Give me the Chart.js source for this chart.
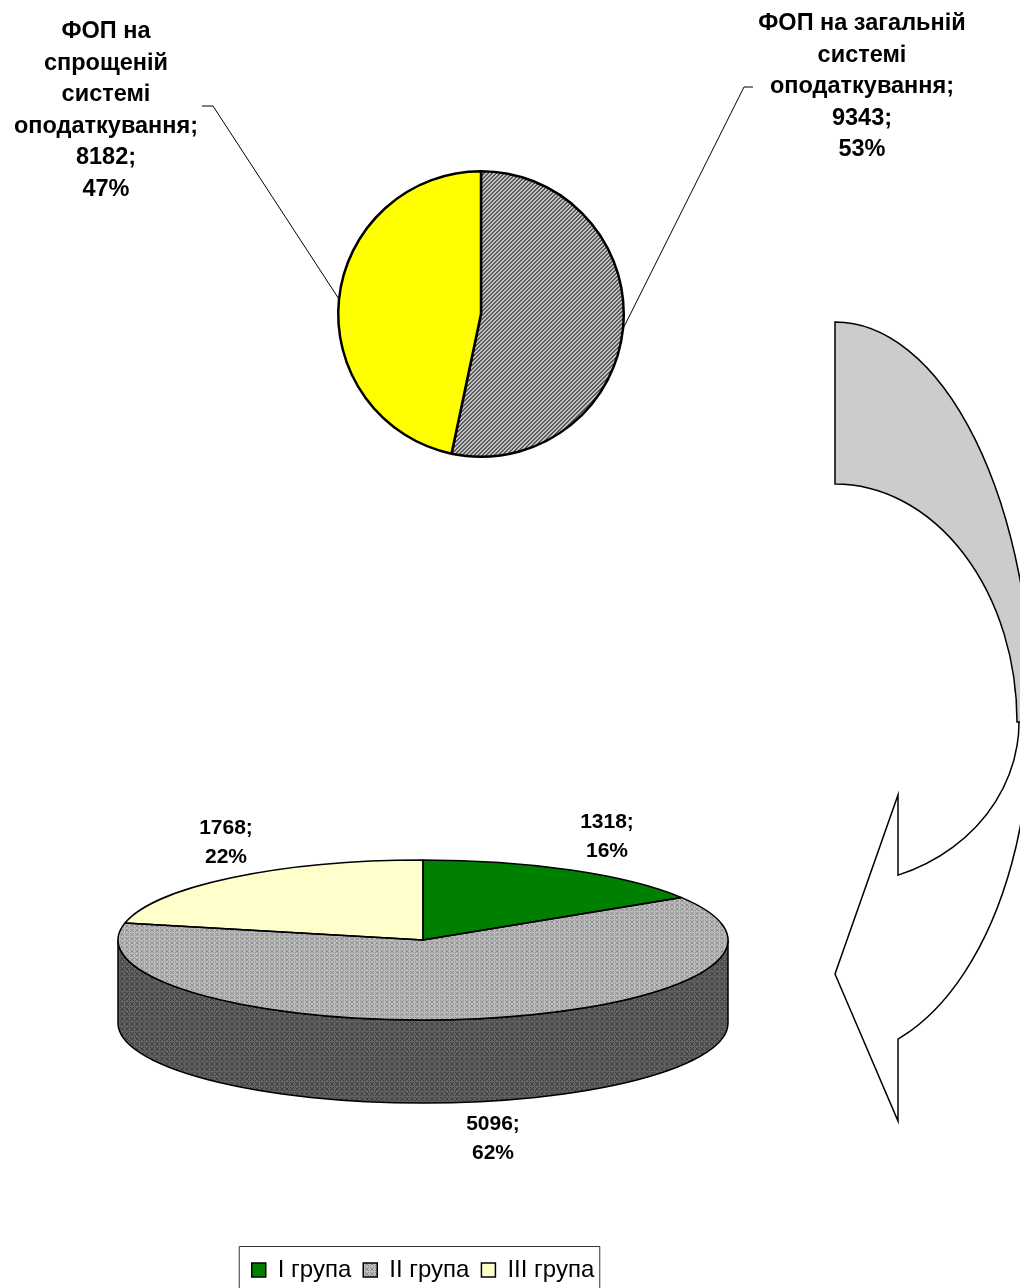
<!DOCTYPE html>
<html>
<head>
<meta charset="utf-8">
<script src="https://cdn.jsdelivr.net/npm/chart.js@4.4.1/dist/chart.umd.min.js"></script>
<style>
  html, body { margin: 0; padding: 0; background: #fff; }
  #wrap { position: relative; width: 1020px; height: 1288px; overflow: hidden; }
  #wrap canvas { position: absolute; left: 0; top: 0; }
</style>
</head>
<body>
<div id="wrap">
  <canvas id="topPie" width="1020" height="1288"></canvas>
  <canvas id="groupPie" width="1020" height="1288"></canvas>
</div>
<script>
// DATA
const systemCategories = [
	["ФОП на загальній", "системі", "оподаткування"],
	["ФОП на", "спрощеній", "системі", "оподаткування"],
];
const systemValues = [9343, 8182];

const groupCategories = ["I група", "II група", "III група"];
const groupValues = [1318, 5096, 1768];

const FONT = "'Liberation Sans', Arial, sans-serif";

// fill patterns
const makePattern = (size, pick) => {
	const c = document.createElement("canvas");
	c.width = c.height = size;
	const g = c.getContext("2d");
	for (let y = 0; y < size; y++) {
		for (let x = 0; x < size; x++) {
			g.fillStyle = pick(x, y);
			g.fillRect(x, y, 1, 1);
		}
	}
	return g.createPattern(c, "repeat");
};
const speck = (x, y) => (x * 7 + y * 13 + x * y * 3) % 5 < 2;
const ctxA = document.getElementById("topPie").getContext("2d");
const hatch = makePattern(4, (x, y) => ((x + y) % 4 < 2 ? "#5a5a5a" : "#c4c4c4"));
const stippleLight = makePattern(10, (x, y) => (speck(x, y) ? "#8c8c8c" : "#bdbdbd"));
const stippleDark = makePattern(10, (x, y) => (speck(x, y) ? "#404040" : "#626262"));

// labels "category; value; percent" drawn next to each slice
const sliceLabels = {
	id: "sliceLabels",
	afterDatasetsDraw(chart, args, o) {
		const ctx = chart.ctx;
		const ds = chart.data.datasets[0];
		const total = ds.data.reduce((a, b) => a + b, 0);
		ctx.save();
		ctx.font = `bold ${o.size}px ${FONT}`;
		ctx.fillStyle = "#000";
		ctx.textAlign = "center";
		ctx.textBaseline = "middle";
		chart.getDatasetMeta(0).data.forEach((arc, i) => {
			const lines = o.withCategory ? [...chart.data.labels[i]] : [];
			if (lines.length) lines[lines.length - 1] += ";";
			lines.push(ds.data[i] + ";", Math.round((ds.data[i] / total) * 100) + "%");
			const a = o.anchors[i];
			lines.forEach((t, j) => ctx.fillText(t, a.x, a.y + j * o.lineHeight));
			if (a.elbow) {
				const m = (arc.startAngle + arc.endAngle) / 2;
				ctx.beginPath();
				ctx.moveTo(arc.x + arc.outerRadius * Math.cos(m), arc.y + arc.outerRadius * Math.sin(m));
				ctx.lineTo(a.elbow[0], a.elbow[1]);
				ctx.lineTo(a.elbow[2], a.elbow[1]);
				ctx.lineWidth = 1;
				ctx.strokeStyle = "#000";
				ctx.stroke();
			}
		});
		ctx.restore();
	},
};

// squash the pie into an ellipse and give it a side wall
const tilt = {
	id: "tilt",
	beforeDatasetsDraw(chart, args, o) {
		const ctx = chart.ctx;
		const arcs = chart.getDatasetMeta(0).data;
		const ds = chart.data.datasets[0];
		const { x: cx, y: cy, outerRadius: r } = arcs[0];
		const ry = r * o.ratio;
		ctx.save();
		arcs.forEach((arc, i) => {
			[[0, Math.PI], [2 * Math.PI, 3 * Math.PI]].forEach(([lo, hi]) => {
				const a = Math.max(arc.startAngle, lo);
				const b = Math.min(arc.endAngle, hi);
				if (b <= a) return;
				ctx.beginPath();
				ctx.ellipse(cx, cy, r, ry, 0, a, b);
				ctx.lineTo(cx + r * Math.cos(b), cy + ry * Math.sin(b) + o.depth);
				ctx.ellipse(cx, cy + o.depth, r, ry, 0, b, a, true);
				ctx.closePath();
				ctx.fillStyle = ds.sideColor[i];
				ctx.fill();
				ctx.lineWidth = 1.5;
				ctx.strokeStyle = "#000";
				ctx.stroke();
			});
		});
		ctx.restore();
		ctx.save();
		ctx.translate(cx, cy);
		ctx.scale(1, o.ratio);
		ctx.translate(-cx, -cy);
	},
	afterDatasetsDraw(chart, args, o) {
		const ctx = chart.ctx;
		ctx.restore();
		chart.getDatasetMeta(0).data.forEach((arc) => {
			ctx.save();
			ctx.translate(arc.x, arc.y);
			ctx.scale(1, o.ratio);
			ctx.translate(-arc.x, -arc.y);
			ctx.beginPath();
			ctx.moveTo(arc.x, arc.y);
			ctx.arc(arc.x, arc.y, arc.outerRadius, arc.startAngle, arc.endAngle);
			ctx.closePath();
			ctx.restore();
			ctx.lineWidth = 1.5;
			ctx.lineJoin = "round";
			ctx.strokeStyle = "#000";
			ctx.stroke();
		});
	},
};

// frame round the legend
const legendFrame = {
	id: "legendFrame",
	afterDraw(chart) {
		const lg = chart.legend;
		const hb = lg.legendHitBoxes;
		const last = hb[hb.length - 1];
		const ctx = chart.ctx;
		ctx.save();
		ctx.strokeStyle = "#333";
		ctx.lineWidth = 1;
		ctx.strokeRect(hb[0].left - 12.5, 1246.5, last.left + last.width - hb[0].left + 18, 100);
		ctx.restore();
	},
};

// curved arrow from the upper pie down to the lower one
const curvedArrow = {
	id: "curvedArrow",
	beforeDraw(chart, args, o) {
		const ctx = chart.ctx;
		const { cx, cy } = o;
		ctx.save();
		ctx.lineWidth = 1.5;
		ctx.strokeStyle = "#000";
		ctx.lineJoin = "miter";

		// front (white) band with the head, partly hidden under the back band
		const tOut = Math.acos((o.neckX - cx) / o.frontOuter[0]);
		const tIn = Math.acos((o.neckX - cx) / o.frontInner[0]);
		ctx.beginPath();
		ctx.ellipse(cx, cy, o.frontOuter[0], o.frontOuter[1], 0, o.outerStart, tOut);
		ctx.lineTo(o.neckX, o.headBottom);
		ctx.lineTo(o.tip[0], o.tip[1]);
		ctx.lineTo(o.neckX, o.headTop);
		ctx.lineTo(o.neckX, cy + o.frontInner[1] * Math.sin(tIn));
		ctx.ellipse(cx, cy, o.frontInner[0], o.frontInner[1], 0, tIn, o.innerStart, true);
		ctx.closePath();
		ctx.fillStyle = "#fff";
		ctx.fill();
		ctx.stroke();

		// back (grey) band
		ctx.beginPath();
		ctx.ellipse(cx, cy, o.backOuter[0], o.backOuter[1], 0, -Math.PI / 2, 0);
		ctx.ellipse(cx, cy, o.backInner[0], o.backInner[1], 0, 0, -Math.PI / 2, true);
		ctx.closePath();
		ctx.fillStyle = "#cccccc";
		ctx.fill();
		ctx.stroke();
		ctx.restore();
	},
};

new Chart(ctxA, {
	type: "pie",
	data: {
		labels: systemCategories,
		datasets: [
			{
				data: systemValues,
				backgroundColor: [hatch, "#ffff00"],
				borderColor: "#000",
				borderWidth: 2.5,
				hoverOffset: 0,
			},
		],
	},
	options: {
		responsive: false,
		animation: false,
		events: [],
		layout: { padding: { left: 337, right: 395, top: 170, bottom: 830 } },
		plugins: {
			legend: { display: false },
			tooltip: { enabled: false },
			sliceLabels: {
				withCategory: true,
				size: 23.5,
				lineHeight: 31.5,
				anchors: [
					{ x: 862, y: 24, elbow: [744, 87, 753] },
					{ x: 106, y: 32, elbow: [213, 106, 202] },
				],
			},
		},
	},
	plugins: [sliceLabels],
});

new Chart(document.getElementById("groupPie").getContext("2d"), {
	type: "pie",
	data: {
		labels: groupCategories,
		datasets: [
			{
				data: groupValues,
				backgroundColor: ["#008000", stippleLight, "#ffffcc"],
				sideColor: ["#004d00", stippleDark, "#c8c890"],
				borderWidth: 0,
				hoverOffset: 0,
				radius: 305,
				clip: false,
			},
		],
	},
	options: {
		responsive: false,
		animation: false,
		events: [],
		layout: { padding: { left: 121, right: 295, top: 634, bottom: -4 } },
		plugins: {
			tooltip: { enabled: false },
			legend: {
				position: "bottom",
				labels: {
					color: "#000",
					font: { family: FONT, size: 24 },
					boxWidth: 14,
					boxHeight: 14,
					padding: 12,
					generateLabels: (chart) =>
						Chart.overrides.pie.plugins.legend.labels.generateLabels(chart).map((l) => ({
							...l,
							strokeStyle: "#000",
							lineWidth: 1.5,
						})),
				},
			},
			tilt: { ratio: 80 / 305, depth: 83 },
			sliceLabels: {
				withCategory: false,
				size: 21,
				lineHeight: 29,
				anchors: [
					{ x: 607, y: 822 },
					{ x: 493, y: 1124 },
					{ x: 226, y: 828 },
				],
			},
			curvedArrow: {
				cx: 835,
				cy: 722,
				backOuter: [198, 400],
				backInner: [182, 238],
				frontOuter: [195, 335],
				frontInner: [184, 163],
				outerStart: -0.35,
				innerStart: -0.201,
				neckX: 898,
				headTop: 795,
				headBottom: 1121,
				tip: [835, 974],
			},
		},
	},
	plugins: [curvedArrow, tilt, sliceLabels, legendFrame],
});
</script>
</body>
</html>
